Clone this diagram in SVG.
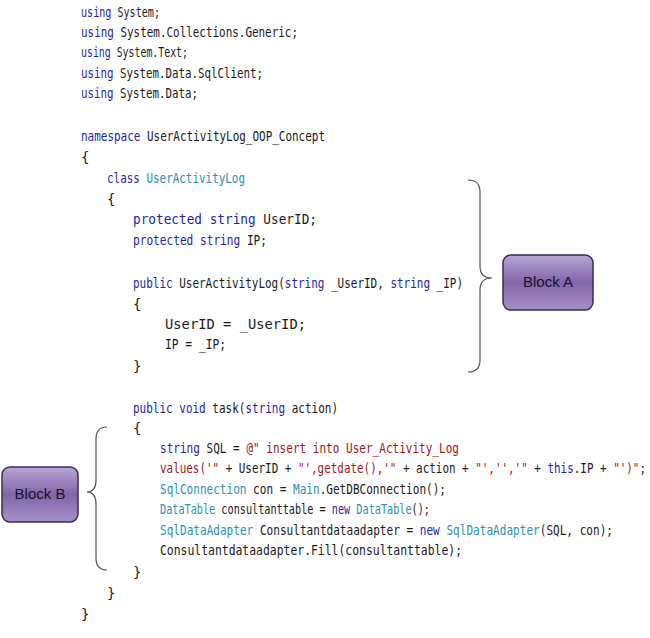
<svg xmlns="http://www.w3.org/2000/svg" width="650" height="638" viewBox="0 0 650 638">
<style>
.c{font-family:"DejaVu Sans Mono","Liberation Mono",monospace;font-size:14px;fill:#1a1a1a}
.k{fill:#1f1fa8}.t{fill:#2b91af}.s{fill:#a31515}
.br{fill:none;stroke:#555;stroke-width:1.2}
.blk{stroke:#3b2a55;stroke-width:1.5}
.bt{font-family:"Liberation Sans",sans-serif;font-size:15px;fill:#1a1030;text-anchor:middle}
</style>
<defs>
<linearGradient id="g" x1="0" y1="0" x2="0" y2="1">
<stop offset="0" stop-color="#b9a6d6"/><stop offset="0.5" stop-color="#8066a8"/><stop offset="1" stop-color="#a590c8"/>
</linearGradient>
</defs>
<rect width="650" height="638" fill="#fff"/>
<g id="code">
<text class="c" x="81" y="17" textLength="79" lengthAdjust="spacingAndGlyphs"><tspan class="k">using</tspan> System;</text>
<text class="c" x="81" y="37" textLength="217" lengthAdjust="spacingAndGlyphs"><tspan class="k">using</tspan> System.Collections.Generic;</text>
<text class="c" x="81" y="57" textLength="107" lengthAdjust="spacingAndGlyphs"><tspan class="k">using</tspan> System.Text;</text>
<text class="c" x="81" y="78" textLength="182" lengthAdjust="spacingAndGlyphs"><tspan class="k">using</tspan> System.Data.SqlClient;</text>
<text class="c" x="81" y="98" textLength="117" lengthAdjust="spacingAndGlyphs"><tspan class="k">using</tspan> System.Data;</text>
<text class="c" x="81" y="141" textLength="244" lengthAdjust="spacingAndGlyphs"><tspan class="k">namespace</tspan> UserActivityLog_OOP_Concept</text>
<text class="c" x="81" y="162">{</text>
<text class="c" x="107" y="183" textLength="138" lengthAdjust="spacingAndGlyphs"><tspan class="k">class</tspan> <tspan class="t">UserActivityLog</tspan></text>
<text class="c" x="107" y="204">{</text>
<text class="c" x="133" y="224" textLength="184" lengthAdjust="spacingAndGlyphs"><tspan class="k">protected</tspan> <tspan class="k">string</tspan> UserID;</text>
<text class="c" x="133" y="245" textLength="134" lengthAdjust="spacingAndGlyphs"><tspan class="k">protected</tspan> <tspan class="k">string</tspan> IP;</text>
<text class="c" x="133" y="288" textLength="330" lengthAdjust="spacingAndGlyphs"><tspan class="k">public</tspan> UserActivityLog(<tspan class="k">string</tspan> _UserID, <tspan class="k">string</tspan> _IP)</text>
<text class="c" x="133" y="309">{</text>
<text class="c" x="165" y="329" textLength="141" lengthAdjust="spacingAndGlyphs">UserID = _UserID;</text>
<text class="c" x="165" y="349" textLength="61" lengthAdjust="spacingAndGlyphs">IP = _IP;</text>
<text class="c" x="133" y="371">}</text>
<text class="c" x="133" y="413" textLength="205" lengthAdjust="spacingAndGlyphs"><tspan class="k">public</tspan> <tspan class="k">void</tspan> task(<tspan class="k">string</tspan> action)</text>
<text class="c" x="133" y="433">{</text>
<text class="c" x="160" y="453" textLength="299" lengthAdjust="spacingAndGlyphs"><tspan class="k">string</tspan> SQL = <tspan class="s">@" insert into User_Activity_Log</tspan></text>
<text class="c" x="160" y="473" textLength="486" lengthAdjust="spacingAndGlyphs"><tspan class="s">values('"</tspan> + UserID + <tspan class="s">"',getdate(),'"</tspan> + action + <tspan class="s">"','','"</tspan> + <tspan class="k">this</tspan>.IP + <tspan class="s">"')"</tspan>;</text>
<text class="c" x="160" y="494" textLength="286" lengthAdjust="spacingAndGlyphs"><tspan class="t">SqlConnection</tspan> con = <tspan class="t">Main</tspan>.GetDBConnection();</text>
<text class="c" x="160" y="514" textLength="270" lengthAdjust="spacingAndGlyphs"><tspan class="t">DataTable</tspan> consultanttable = <tspan class="k">new</tspan> <tspan class="t">DataTable</tspan>();</text>
<text class="c" x="160" y="535" textLength="453" lengthAdjust="spacingAndGlyphs"><tspan class="t">SqlDataAdapter</tspan> Consultantdataadapter = <tspan class="k">new</tspan> <tspan class="t">SqlDataAdapter</tspan>(SQL, con);</text>
<text class="c" x="160" y="555" textLength="302" lengthAdjust="spacingAndGlyphs">Consultantdataadapter.Fill(consultanttable);</text>
<text class="c" x="133" y="577">}</text>
<text class="c" x="107" y="598">}</text>
<text class="c" x="81" y="619">}</text>
</g>
<g id="connectors">
<path class="br" d="M468,180 Q480,180 480,192 L480,266 Q480,278 492,278 Q480,278 480,290 L480,360 Q480,372 468,372"/>
<path class="br" d="M107,427 Q96,427 96,439 L96,480 Q96,492 87,492 Q96,492 96,504 L96,558 Q96,570 107,570"/>
</g>
<g id="blockA">
<rect class="blk" x="503" y="255" width="90" height="55" rx="8" fill="url(#g)"/>
<text class="bt" x="548" y="287">Block A</text>
</g>
<g id="blockB">
<rect class="blk" x="2" y="467" width="76" height="55" rx="8" fill="url(#g)"/>
<text class="bt" x="40" y="499">Block B</text>
</g>
</svg>
